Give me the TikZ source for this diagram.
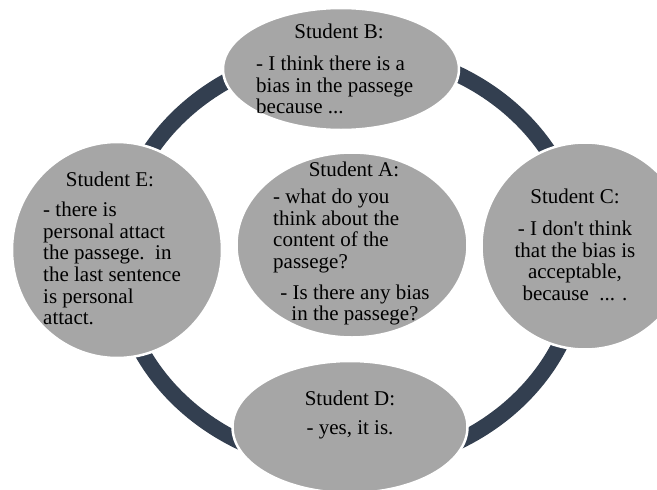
\documentclass[tikz,border=0pt]{standalone}
\usepackage{fontspec}
\newfontfamily\cyclefont{Liberation Serif}
\usetikzlibrary{shapes.geometric}
\definecolor{ringnavy}{RGB}{51,63,80}
\definecolor{bubblegray}{RGB}{166,166,166}
\tikzset{
  bubble/.style={ellipse, draw=white, line width=2.5pt, fill=bubblegray, inner sep=0pt},
  head/.style={anchor=north, inner sep=0pt, font=\cyclefont\fontsize{21}{21.7}\selectfont},
  lbody/.style={head, anchor=north west, align=left},
  cbody/.style={head, align=center}
}

\begin{document}
\begin{tikzpicture}[x=1pt,y=-1pt]
  \useasboundingbox (0,0) rectangle (657,490);
  \clip (0,0) rectangle (657,490);
  % ring behind the students
  \draw[ringnavy, line width=16pt] (349,258) ellipse [x radius=232, y radius=208];
  % students
  \node[bubble, minimum width=236pt, minimum height=122pt] (bubbleB) at (341,69) {};
  \node[bubble, minimum width=231pt, minimum height=185pt] (bubbleA) at (352,245) {};
  \node[bubble, minimum width=210pt, minimum height=216pt] (bubbleE) at (117,250) {};
  \node[bubble, minimum width=207pt, minimum height=207pt] (bubbleC) at (585,246) {};
  \node[bubble, minimum width=235pt, minimum height=132pt] (bubbleD) at (350,427) {};
  % texts
  \node[head] (headB) at (339,23.7) {Student B:};
  \node[lbody] (bodyB) at (256,55.7) {- I think there is a\\bias in the passege\\because ...};
  \node[head] (headA) at (354,161.7) {Student A:};
  \node[lbody] (bodyA) at (273,188.7) {- what do you\\think about the\\content of the\\passege?};
  \node[cbody] (askA) at (355,284.5) {- Is there any bias\\in the passege?};
  \node[head] (headE) at (110,171.7) {Student E:};
  \node[lbody] (bodyE) at (43,201.7) {- there is\\personal attact\\the passege.\ \ in\\the last sentence\\is personal\\attact.};
  \node[head] (headC) at (575,188.7) {Student C:};
  \node[cbody] (bodyC) at (575,220.7) {- I don't think\\that the bias is\\acceptable,\\because\ \ ... .};
  \node[head] (headD) at (350,390.7) {Student D:};
  \node[cbody] (bodyD) at (350,420.7) {- yes, it is.};
\end{tikzpicture}
\end{document}
